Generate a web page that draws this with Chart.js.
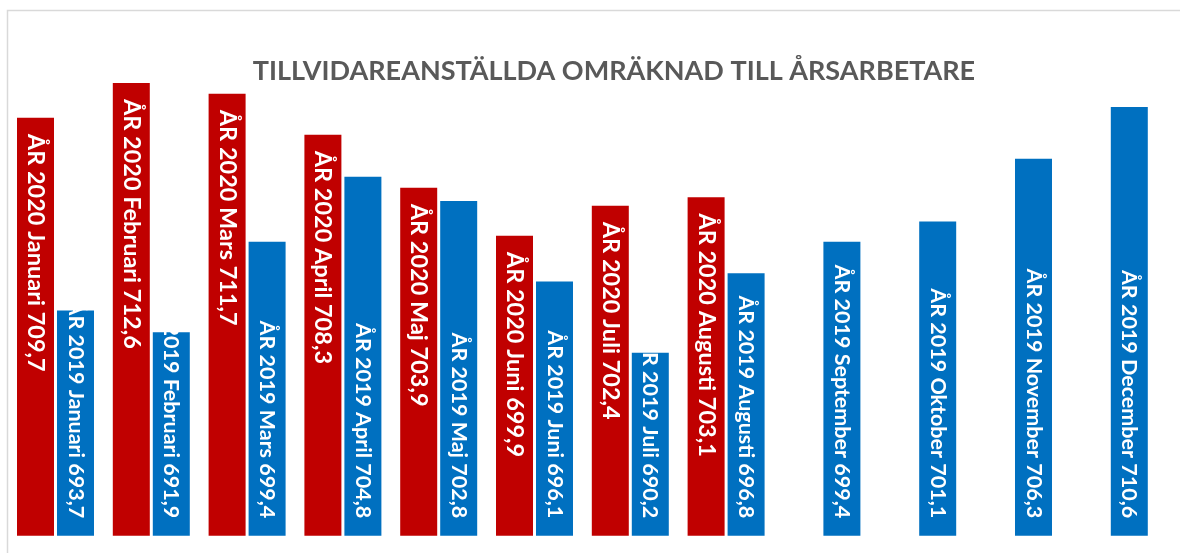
<!DOCTYPE html>
<html lang="sv">
<head>
    <meta charset="UTF-8">
    <title>Tillvidareanställda omräknad till årsarbetare</title>
    <script src="https://cdn.jsdelivr.net/npm/chart.js"></script>
    <style>
        html, body { margin: 0; padding: 0; background: #fff; }
        #wrap { width: 1180px; height: 553px; }
    </style>
</head>
<body>
    <div id="wrap"><canvas id="chart" width="1180" height="553"></canvas></div>

    <script>
        // Data
        const months = ['Januari', 'Februari', 'Mars', 'April', 'Maj', 'Juni', 'Juli', 'Augusti',
                        'September', 'Oktober', 'November', 'December'];
        const series2020 = [709.7, 712.6, 711.7, 708.3, 703.9, 699.9, 702.4, 703.1, null, null, null, null];
        const series2019 = [693.7, 691.9, 699.4, 704.8, 702.8, 696.1, 690.2, 696.8, 699.4, 701.1, 706.3, 710.6];
        const seriesNames = ['ÅR 2020', 'ÅR 2019'];
        const chartTitle = 'TILLVIDAREANSTÄLLDA OMRÄKNAD TILL ÅRSARBETARE';
        const yMin = 675;
        const yMax = 715;

        // 2020 labels sit at the top of the bar, 2019 labels at the bottom (smaller text)
        const labelStyle = [
            { font: 'bold 23.5px Lato', anchor: 'end' },
            { font: 'bold 21.5px Lato', anchor: 'start' }
        ];
        const titleFont = 'bold 27px Lato';

        // chart frame (light grey border, runs off the right and bottom)
        const framePlugin = {
            id: 'frame',
            beforeDraw(chart) {
                const ctx = chart.ctx;
                ctx.save();
                ctx.strokeStyle = '#d9d9d9';
                ctx.lineWidth = 1.5;
                ctx.strokeRect(7.5, 10.5, 1300, 700);
                ctx.restore();
            }
        };

        // title drawn over the top of the plot area, like Excel does
        const titlePlugin = {
            id: 'overTitle',
            afterDraw(chart) {
                const ctx = chart.ctx;
                ctx.save();
                ctx.font = titleFont;
                ctx.fillStyle = '#595959';
                ctx.textAlign = 'center';
                ctx.textBaseline = 'alphabetic';
                ctx.fillText(chartTitle, 614, 80);
                ctx.restore();
            }
        };

        // rotated white labels inside the bars
        const barLabels = {
            id: 'barLabels',
            afterDatasetsDraw(chart) {
                const ctx = chart.ctx;
                const padTop = 16;
                const padBottom = 17.5;
                const area = chart.chartArea;
                const bottom = area.bottom;
                ctx.save();
                ctx.beginPath();
                ctx.rect(area.left, 0, area.right - area.left, area.bottom);
                ctx.clip();
                ctx.fillStyle = '#ffffff';
                ctx.textAlign = 'left';
                ctx.textBaseline = 'middle';
                chart.data.datasets.forEach((ds, di) => {
                    const meta = chart.getDatasetMeta(di);
                    const style = labelStyle[di];
                    ctx.font = style.font;
                    meta.data.forEach((bar, i) => {
                        const v = ds.data[i];
                        if (v === null || v === undefined) return;
                        const text = seriesNames[di] + ' ' + months[i] + ' ' + v.toFixed(1).replace('.', ',');
                        const w = ctx.measureText(text).width;
                        let start;
                        if (style.anchor === 'end') {
                            start = bar.y + padTop;
                            if (start + w > bottom - padBottom) start = bottom - padBottom - w;
                        } else {
                            start = bottom - padBottom - w;
                        }
                        ctx.save();
                        ctx.translate(bar.x, start);
                        ctx.rotate(Math.PI / 2);
                        ctx.fillText(text, 0, 0);
                        ctx.restore();
                    });
                });
                ctx.restore();
            }
        };

        new Chart(document.getElementById('chart').getContext('2d'), {
            type: 'bar',
            data: {
                labels: months,
                datasets: [
                    { label: seriesNames[0], data: series2020, backgroundColor: '#c00000' },
                    { label: seriesNames[1], data: series2019, backgroundColor: '#0070c0' }
                ]
            },
            options: {
                responsive: false,
                animation: false,
                layout: { padding: { top: 54, bottom: 17.3, left: 7.6, right: 22.8 } },
                datasets: {
                    bar: { categoryPercentage: 0.835, barPercentage: 0.925, borderWidth: 0 }
                },
                scales: {
                    x: { display: false },
                    y: { display: false, min: yMin, max: yMax }
                },
                plugins: {
                    legend: { display: false },
                    tooltip: { enabled: false },
                    title: { display: false }
                }
            },
            plugins: [framePlugin, barLabels, titlePlugin]
        });
    </script>
</body>
</html>
